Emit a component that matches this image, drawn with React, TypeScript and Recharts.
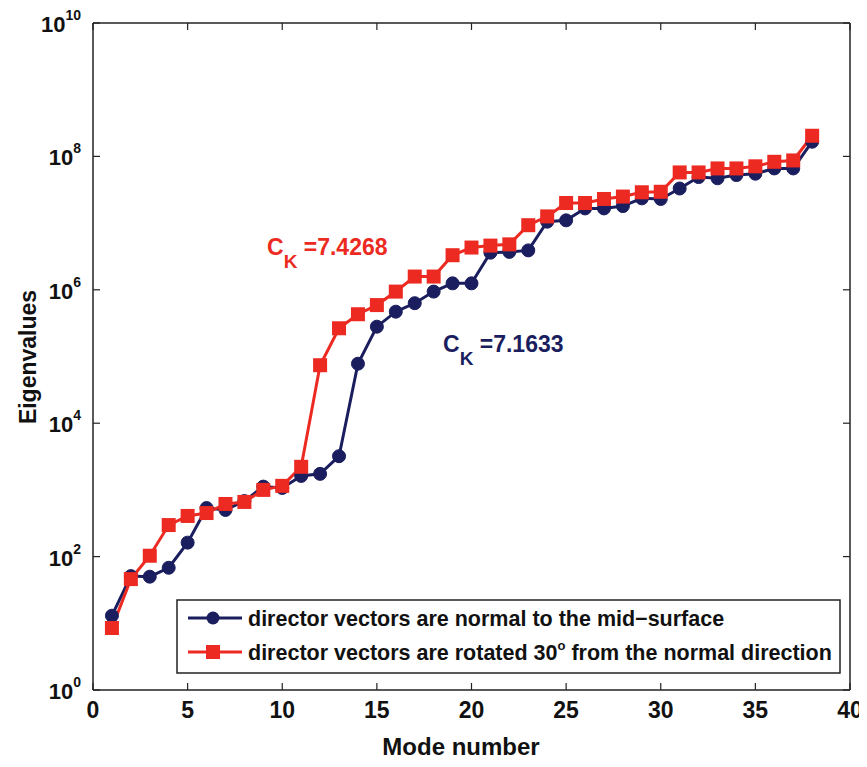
import React from "react";
import { LineChart, Line, XAxis, YAxis } from "recharts";

const modes = [1,2,3,4,5,6,7,8,9,10,11,12,13,14,15,16,17,18,19,20,21,22,23,24,25,26,27,28,29,30,31,32,33,34,35,36,37,38];
const normalVals = [13,51,50,68,162,535,500,680,1120,1070,1620,1740,3200,78000,280000,470000,630000,940000,1.25e6,1.25e6,3.6e6,3.7e6,3.9e6,1.05e7,1.1e7,1.66e7,1.66e7,1.8e7,2.35e7,2.3e7,3.3e7,4.9e7,4.7e7,5.25e7,5.5e7,6.6e7,6.6e7,1.66e8];
const rotatedVals = [8.5,46,103,297,407,450,615,660,1000,1150,2220,74000,265000,430000,590000,940000,1.58e6,1.58e6,3.3e6,4.3e6,4.6e6,4.8e6,9.3e6,1.26e7,2.0e7,2.0e7,2.3e7,2.5e7,2.9e7,2.95e7,5.75e7,5.75e7,6.6e7,6.6e7,7.1e7,8.3e7,8.7e7,2.04e8];
const xTicks = [0,5,10,15,20,25,30,35,40];
const yTicks = [1,1e2,1e4,1e6,1e8,1e10];
const seriesNames = [
  "director vectors are normal to the mid\u2212surface",
  "director vectors are rotated 30",
];
const annotations = [
  { base: "C", sub: "K", text: " =7.4268" },
  { base: "C", sub: "K", text: " =7.1633" },
];

const NAVY = "#1b1e5e";
const RED = "#ec2a22";
const FONT = "'Liberation Sans', Arial, sans-serif";

const data = modes.map((m, i) => ({ mode: m, normal: normalVals[i], rotated: rotatedVals[i] }));

const BottomTick = (p: any) => {
  const { x, y, payload } = p;
  return (
    <g>
      <line x1={x} y1={y} x2={x} y2={y - 7} stroke="#222" strokeWidth={1.2} />
      <text x={x} y={y + 28} textAnchor="middle" fontFamily={FONT} fontWeight="bold" fontSize={23} fill="#111">
        {payload.value}
      </text>
    </g>
  );
};
const TopTick = (p: any) => {
  const { x, y } = p;
  return <line x1={x} y1={y} x2={x} y2={y + 7} stroke="#222" strokeWidth={1.2} />;
};
const LeftTick = (p: any) => {
  const { x, y, payload } = p;
  const e = Math.round(Math.log10(payload.value));
  return (
    <g>
      <line x1={x} y1={y} x2={x + 7} y2={y} stroke="#222" strokeWidth={1.2} />
      <text x={x - 12} y={y + 9} textAnchor="end" fontFamily={FONT} fontWeight="bold" fontSize={22} fill="#111">
        <tspan fontWeight="bold" fontSize={22}>10</tspan>
        <tspan dy={-12} fontWeight="bold" fontSize={14}>{e}</tspan>
      </text>
    </g>
  );
};
const RightTick = (p: any) => {
  const { x, y } = p;
  return <line x1={x} y1={y} x2={x - 7} y2={y} stroke="#222" strokeWidth={1.2} />;
};

const CircleDot = (p: any) => {
  const { cx, cy } = p;
  if (cx == null || cy == null) return null;
  return <circle cx={cx} cy={cy} r={6.5} fill={NAVY} stroke={NAVY} />;
};
const SquareDot = (p: any) => {
  const { cx, cy } = p;
  if (cx == null || cy == null) return null;
  return <rect x={cx - 7} y={cy - 7} width={14} height={14} fill={RED} />;
};

export default function App() {
  return (
    <div style={{ position: "relative", width: 859, height: 759 }}>
      <LineChart width={859} height={759} data={data} margin={{ top: 14, right: 16, left: 0, bottom: 0 }}
        style={{ overflow: "visible" }}>
        <XAxis dataKey="mode" type="number" domain={[0, 40]} ticks={xTicks} xAxisId="b" orientation="bottom"
          height={77} tickSize={0} tickMargin={0} tickLine={false} tick={<BottomTick />}
          axisLine={{ stroke: "#222", strokeWidth: 1.5 }} interval={0} />
        <XAxis dataKey="mode" type="number" domain={[0, 40]} ticks={xTicks} xAxisId="t" orientation="top"
          height={1} tickSize={0} tickMargin={0} tickLine={false} tick={<TopTick />}
          axisLine={{ stroke: "#222", strokeWidth: 1.5 }} interval={0} />
        <YAxis yAxisId="l" orientation="left" scale="log" domain={[1, 1e10]} ticks={yTicks} type="number"
          allowDataOverflow width={85} tickSize={0} tickMargin={0} tickLine={false} tick={<LeftTick />}
          axisLine={{ stroke: "#222", strokeWidth: 1.5 }} interval={0} />
        <YAxis yAxisId="r" orientation="right" scale="log" domain={[1, 1e10]} ticks={yTicks} type="number"
          allowDataOverflow width={1} tickSize={0} tickMargin={0} tickLine={false} tick={<RightTick />}
          axisLine={{ stroke: "#222", strokeWidth: 1.5 }} interval={0} />
        <Line xAxisId="b" yAxisId="l" dataKey="normal" name={seriesNames[0]} stroke={NAVY} strokeWidth={3}
          dot={<CircleDot />} isAnimationActive={false} />
        <Line xAxisId="b" yAxisId="l" dataKey="rotated" name={seriesNames[1]} stroke={RED} strokeWidth={3}
          dot={<SquareDot />} isAnimationActive={false} />
      </LineChart>
      <svg width={859} height={759} style={{ position: "absolute", left: 0, top: 0, pointerEvents: "none" }}>
        <text x={453} y={747} textAnchor="middle" fontFamily={FONT} fontWeight="bold" fontSize={24} fill="#111">Mode number</text>
        <text transform="translate(28,349) rotate(-90)" textAnchor="middle" fontFamily={FONT} fontWeight="bold" fontSize={23} fill="#111">Eigenvalues</text>
        <text x={259} y={247} fontFamily={FONT} fontWeight="bold" fontSize={23} fill={RED}>
          <tspan>{annotations[0].base}</tspan>
          <tspan dy={13} fontSize={19}>{annotations[0].sub}</tspan>
          <tspan dy={-13}>{annotations[0].text}</tspan>
        </text>
        <text x={435} y={344} fontFamily={FONT} fontWeight="bold" fontSize={23} fill={NAVY}>
          <tspan>{annotations[1].base}</tspan>
          <tspan dy={13} fontSize={19}>{annotations[1].sub}</tspan>
          <tspan dy={-13}>{annotations[1].text}</tspan>
        </text>
        <g transform="translate(169,592)">
          <rect x={0} y={0} width={663} height={73} fill="#fff" stroke="#222" strokeWidth={1.5} />
          <line x1={11} y1={18} x2={65} y2={18} stroke={NAVY} strokeWidth={3} />
          <circle cx={36} cy={18} r={6.5} fill={NAVY} />
          <text x={71} y={26} fontFamily={FONT} fontWeight="bold" fontSize={21.5} fill="#111">{seriesNames[0]}</text>
          <line x1={11} y1={52} x2={65} y2={52} stroke={RED} strokeWidth={3} />
          <rect x={29} y={45} width={14} height={14} fill={RED} />
          <text x={71} y={60} fontFamily={FONT} fontWeight="bold" fontSize={21.5} fill="#111">
            <tspan>{seriesNames[1]}</tspan>
            <tspan dy={-10} fontSize={13}>o</tspan>
            <tspan dy={10}> from the normal direction</tspan>
          </text>
        </g>
      </svg>
    </div>
  );
}
